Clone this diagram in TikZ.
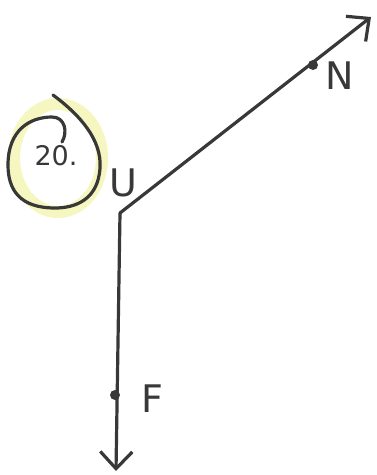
\documentclass[tikz,border=0pt]{standalone}
\usepackage{fontspec}
\setsansfont{DejaVu Sans}
\usepackage{xcolor}
\definecolor{Ink}{HTML}{383838}
\definecolor{Marker}{HTML}{EEF08C}
\usetikzlibrary{arrows.meta, positioning}

\begin{document}
\begin{tikzpicture}[x=1pt, y=-1pt,
  pen/.style={draw=Ink, line width=3.2pt, line cap=round, line join=round},
  ray/.style={pen, -{Straight Barb[length=17pt, width=32pt, line width=3.2pt]}},
  pt/.style={circle, fill=Ink, inner sep=0pt, minimum size=10pt},
  lbl/.style={font=\sffamily\fontsize{38}{38}\selectfont, text=Ink, inner sep=0pt}
]
\useasboundingbox (0,0) rectangle (377,475);

%% ---- number in the marked circle ----
\draw[Marker, line width=12pt, opacity=0.55]
  (58,158) ellipse [x radius=44pt, y radius=54pt];
\draw[pen] (53,95) .. controls (80,115) and (102,140) .. (100,168)
  .. controls (98,200) and (75,208) .. (55,208)
  .. controls (20,208) and (8,190) .. (8,165)
  .. controls (8,130) and (30,117) .. (52,117)
  .. controls (65,117) and (68,132) .. (62,142);
\node[font=\sffamily\fontsize{27}{27}\selectfont, text=Ink] (num) at (56,156) {20.};

%% ---- vertex and the two rays ----
\coordinate (U) at (120,213);
\coordinate (tipN) at (371,17);
\coordinate (tipF) at (116,471);
\node[pt] (N) at (313,65) {};
\node[pt] (F) at (115,395) {};
\draw[ray] (U) -- (tipN);
\draw[ray] (U) -- (tipF);

%% ---- labels ----
\node[lbl] (lU) at (123,183) {U};
\node[lbl] (lN) at (340,76) {N};
\node[lbl] (lF) at (152,399) {F};

\end{tikzpicture}
\end{document}
